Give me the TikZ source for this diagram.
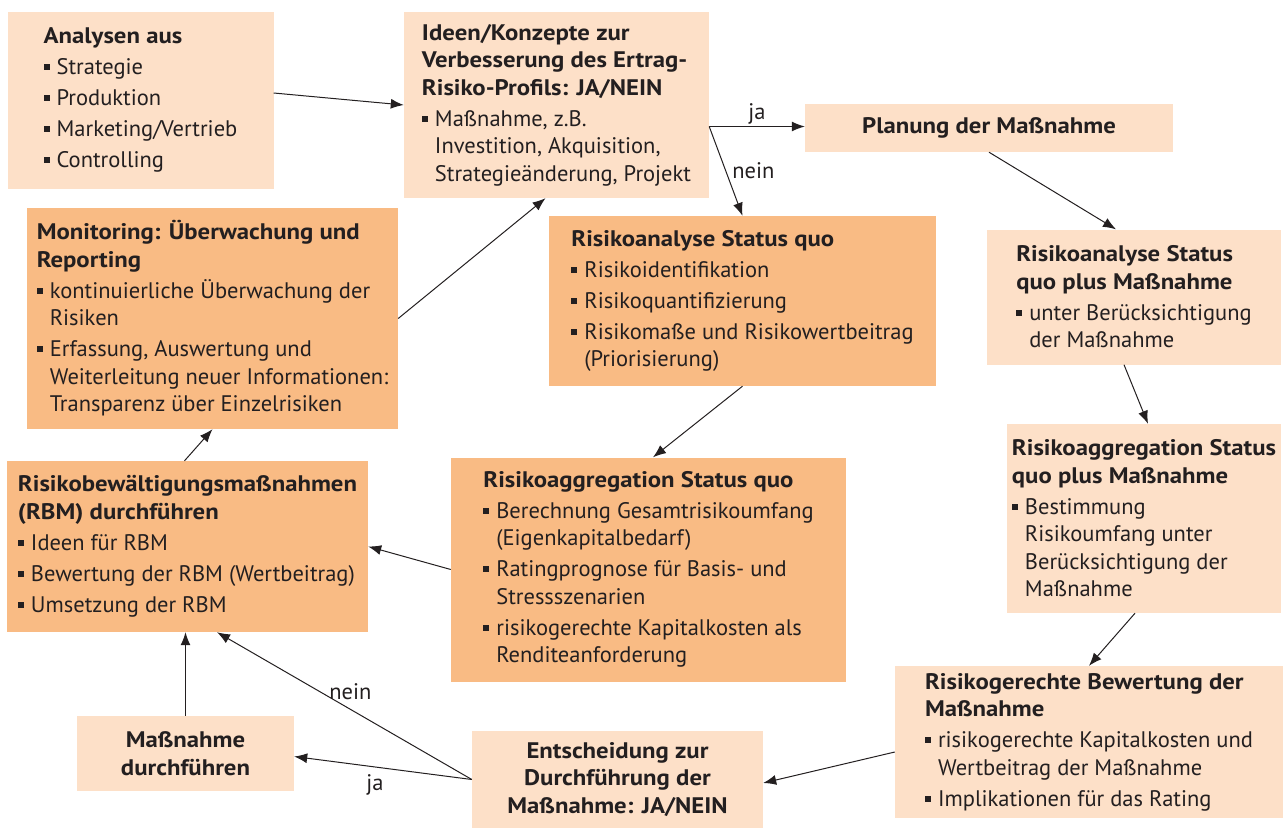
\documentclass[tikz,border=0pt]{standalone}
\usepackage{fontspec}
\setmainfont{PT Sans}[BoldFeatures={FakeStretch=1.1}]
\usepackage{tikz}
\usetikzlibrary{shapes,arrows.meta,positioning,calc}
\definecolor{lightpeach}{HTML}{FDE0C8}
\definecolor{darkpeach}{HTML}{F9BB84}
\definecolor{inkgray}{HTML}{231F20}
\tikzstyle{block} = [rectangle, text=inkgray, align=left, inner sep=0pt, font=\fontsize{22.5}{27.5}\selectfont]
\tikzstyle{lightblock} = [block, fill=lightpeach]
\tikzstyle{darkblock} = [block, fill=darkpeach]
\tikzstyle{arrow} = [draw, inkgray, line width=1pt, -{Latex[length=13pt,width=10pt]}]
\tikzstyle{tag} = [text=inkgray, inner sep=2pt, font=\fontsize{22.5}{27}\selectfont]
\newcommand{\bl}{\makebox[13pt][l]{\rule[4.5pt]{6pt}{6pt}}}
\newcommand{\ind}{\hspace*{13pt}}

\begin{document}
\begin{tikzpicture}[x=1pt, y=-1pt]
    \useasboundingbox (0,0) rectangle (1283,828);

    % upper row
    \node[lightblock, minimum width=266pt, minimum height=177pt] (analysen) at (140.5,100)
        {\textbf{Analysen aus}\\[3.5pt]
         \bl Strategie\\[3.5pt]
         \bl Produktion\\[3.5pt]
         \bl Marketing/Vertrieb\\[3.5pt]
         \bl Controlling};
    \node[lightblock, minimum width=305pt, minimum height=186pt] (ideen) at (556.5,105)
        {\textbf{Ideen/Konzepte zur}\\
         \textbf{Verbesserung des Ertrag-}\\
         \textbf{Risiko-Profils: JA/NEIN}\\[3.5pt]
         \bl Maßnahme, z.B.\\
         \ind Investition, Akquisition,\\
         \ind Strategieänderung, Projekt};
    \node[lightblock, align=center, minimum width=368pt, minimum height=48pt] (planung) at (989,128)
        {\textbf{Planung der Maßnahme}};

    % status quo
    \node[darkblock, minimum width=371pt, minimum height=221pt] (monitoring) at (212.5,318.5)
        {\textbf{Monitoring: Überwachung und}\\
         \textbf{Reporting}\\[3.5pt]
         \bl kontinuierliche Überwachung der\\
         \ind Risiken\\[3.5pt]
         \bl Erfassung, Auswertung und\\
         \ind Weiterleitung neuer Informationen:\\
         \ind Transparenz über Einzelrisiken};
    \node[darkblock, minimum width=387pt, minimum height=170pt] (analyseSQ) at (742.5,301)
        {\textbf{Risikoanalyse Status quo}\\[3.5pt]
         \bl Risikoidentifikation\\[3.5pt]
         \bl Risikoquantifizierung\\[3.5pt]
         \bl Risikomaße und Risikowertbeitrag\\
         \ind (Priorisierung)};
    \node[darkblock, minimum width=361pt, minimum height=171pt] (rbm) at (187.5,546.5)
        {\textbf{Risikobewältigungsmaßnahmen}\\
         \textbf{(RBM) durchführen}\\[3.5pt]
         \bl Ideen für RBM\\[3.5pt]
         \bl Bewertung der RBM (Wertbeitrag)\\[3.5pt]
         \bl Umsetzung der RBM};
    \node[darkblock, minimum width=395pt, minimum height=224pt] (aggregSQ) at (648.5,569.5)
        {\textbf{Risikoaggregation Status quo}\\[3.5pt]
         \bl Berechnung Gesamtrisikoumfang\\
         \ind (Eigenkapitalbedarf)\\[3.5pt]
         \bl Ratingprognose für Basis- und\\
         \ind Stressszenarien\\[3.5pt]
         \bl risikogerechte Kapitalkosten als\\
         \ind Renditeanforderung};

    % status quo plus measure
    \node[lightblock, minimum width=294pt, minimum height=135pt] (analysePlus) at (1134,297)
        {\textbf{Risikoanalyse Status}\\
         \textbf{quo plus Maßnahme}\\[3.5pt]
         \bl unter Berücksichtigung\\
         \ind der Maßnahme};
    \node[lightblock, minimum width=274pt, minimum height=189pt] (aggregPlus) at (1144,518.5)
        {\textbf{Risikoaggregation Status}\\
         \textbf{quo plus Maßnahme}\\[3.5pt]
         \bl Bestimmung\\
         \ind Risikoumfang unter\\
         \ind Berücksichtigung der\\
         \ind Maßnahme};
    \node[lightblock, minimum width=388pt, minimum height=152pt] (bewertung) at (1089,742)
        {\textbf{Risikogerechte Bewertung der}\\
         \textbf{Maßnahme}\\[3.5pt]
         \bl risikogerechte Kapitalkosten und\\
         \ind Wertbeitrag der Maßnahme\\[3.5pt]
         \bl Implikationen für das Rating};

    % decision
    \node[lightblock, align=center, minimum width=291pt, minimum height=97pt] (entscheidung) at (617.5,779.5)
        {\textbf{Entscheidung zur}\\
         \textbf{Durchführung der}\\
         \textbf{Maßnahme: JA/NEIN}};
    \node[lightblock, align=center, minimum width=217pt, minimum height=75pt] (durchfuehren) at (185.5,753.5)
        {\textbf{Maßnahme}\\
         \textbf{durchführen}};

    \coordinate (fork) at ([yshift=-21.5pt]ideen.east);

    \path[arrow] ([yshift=7pt]analysen.east) -- (ideen.west);
    \path[arrow] (fork) -- node[tag, midway, above] {ja} (fork -| planung.west);
    \path[arrow] (fork) -- node[tag, midway, right, xshift=4pt] {nein} (analyseSQ.north);
    \path[arrow] (planung.south) -- ([xshift=-18pt]analysePlus.north);
    \path[arrow] ([xshift=-10pt]analysePlus.south) -- ([xshift=4pt]aggregPlus.north);
    \path[arrow] ([xshift=-9pt]aggregPlus.south) -- (bewertung.north);
    \path[arrow] ([yshift=-10pt]bewertung.west) -- ([yshift=-3.5pt]entscheidung.east);
    \path[arrow] (entscheidung.west) -- node[tag, midway, below, xshift=-8pt, yshift=-4pt] {ja} ([yshift=-3pt]durchfuehren.east);
    \path[arrow] (entscheidung.west) -- node[tag, midway, above, xshift=6pt, yshift=4pt] {nein} ([xshift=29.5pt]rbm.south);
    \path[arrow] (durchfuehren.north) -- (durchfuehren.north |- rbm.south);
    \path[arrow] ([xshift=-3pt]rbm.north) -- (monitoring.south);
    \path[arrow] (aggregSQ.west) -- (rbm.east);
    \path[arrow] (analyseSQ.south) -- ([xshift=4.5pt]aggregSQ.north);
    \path[arrow] (monitoring.east) -- ([xshift=-11pt]ideen.south);
\end{tikzpicture}
\end{document}
